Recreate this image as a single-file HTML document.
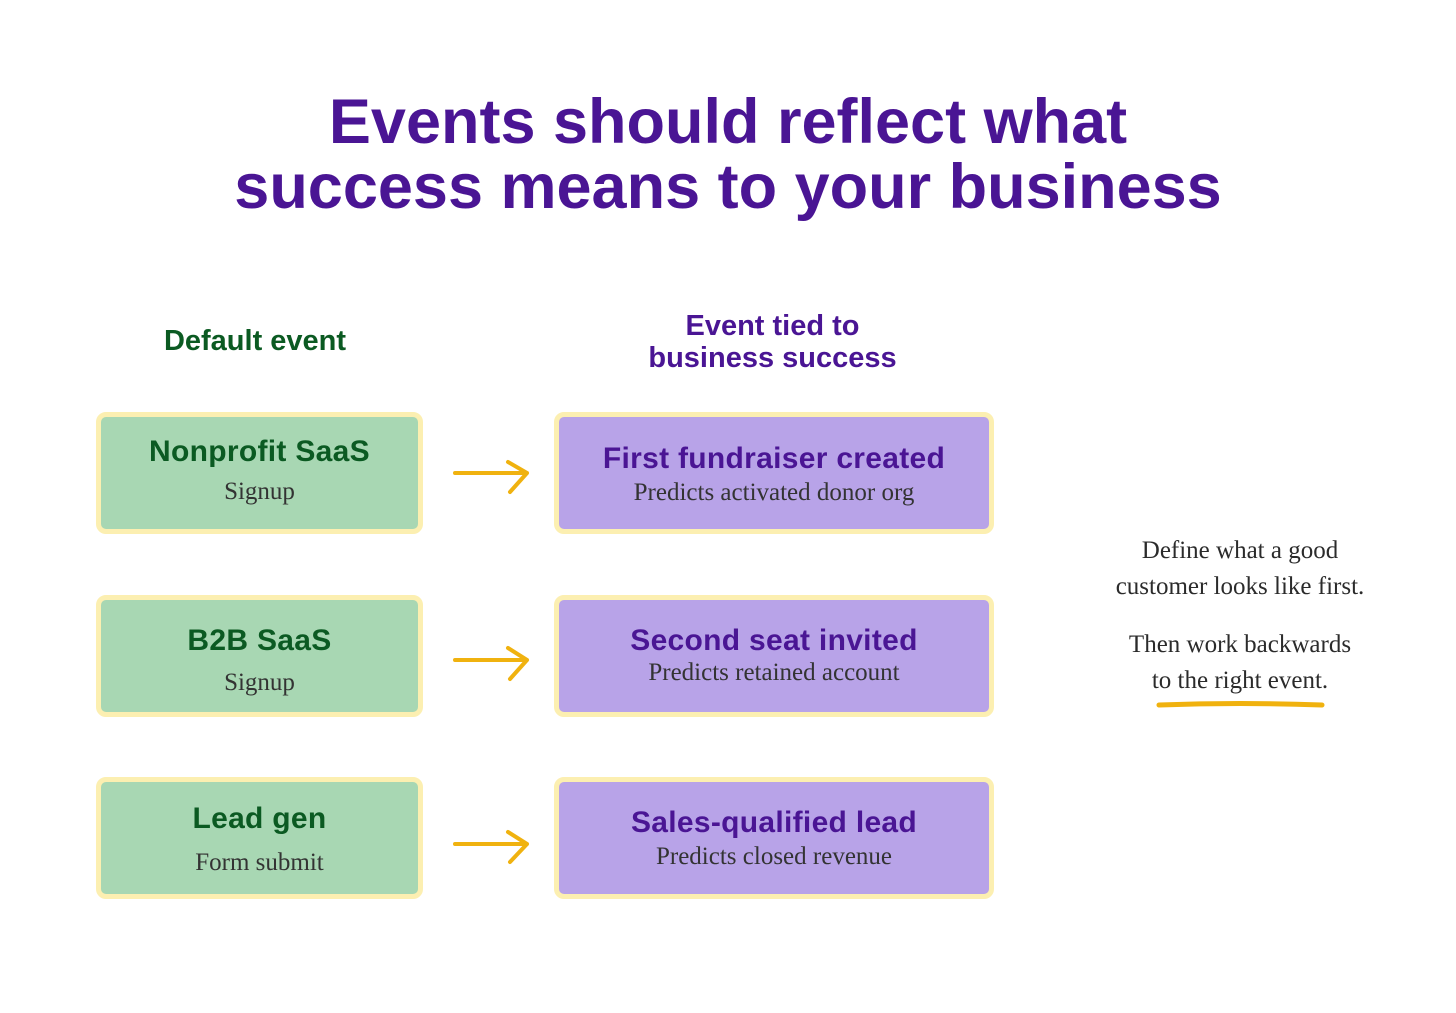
<!DOCTYPE html>
<html><head><meta charset="utf-8"><style>
body{margin:0;width:1456px;height:1013px;background:#fff;position:relative;overflow:hidden;font-family:"Liberation Sans",sans-serif}
.t{position:absolute;left:0;width:1456px;text-align:center;color:#4a1594;font-weight:bold;font-size:63px;line-height:64px;letter-spacing:0px}
.box{position:absolute;border:5px solid #fcefb1;border-radius:10px;box-sizing:border-box;text-align:center}
.g{background:#a8d7b3;left:96px;width:327px;height:122px}
.p{background:#b8a3e8;left:554px;width:440px;height:122px}
.h{font-weight:bold;font-size:30px;line-height:34px;letter-spacing:0.3px}
.g .h{color:#0b5a22}.p .h{color:#4a1594}
.s{font-family:"Liberation Serif",serif;font-size:25px;color:#333;line-height:30px}
.lab{position:absolute;font-weight:bold;font-size:29px;line-height:32px;text-align:center}
.note{position:absolute;left:1070px;width:340px;text-align:center;font-family:"Liberation Serif",serif;font-size:25px;color:#2b2b2b;line-height:36px}
</style></head><body>
<div class="t" style="top:90px">Events should reflect what</div>
<div class="t" style="top:155px">success means to your business</div>
<div class="lab" style="left:100px;width:310px;top:325px;color:#0b5a22">Default event</div>
<div class="lab" style="left:600px;width:345px;top:310px;color:#4a1594">Event tied to<br>business success</div>

<div class="box g" style="top:412px"><div class="h" style="margin-top:18px">Nonprofit SaaS</div><div class="s" style="margin-top:8px">Signup</div></div>
<div class="box g" style="top:595px"><div class="h" style="margin-top:24px">B2B SaaS</div><div class="s" style="margin-top:10px">Signup</div></div>
<div class="box g" style="top:777px"><div class="h" style="margin-top:20px">Lead gen</div><div class="s" style="margin-top:12px">Form submit</div></div>

<div class="box p" style="top:412px"><div class="h" style="margin-top:25px">First fundraiser created</div><div class="s" style="margin-top:2px">Predicts activated donor org</div></div>
<div class="box p" style="top:595px"><div class="h" style="margin-top:24px">Second seat invited</div><div class="s" style="margin-top:0px">Predicts retained account</div></div>
<div class="box p" style="top:777px"><div class="h" style="margin-top:24px">Sales-qualified lead</div><div class="s" style="margin-top:2px">Predicts closed revenue</div></div>

<svg style="position:absolute;left:0;top:0" width="1456" height="1013">
<g stroke="#f0b20f" stroke-width="4" fill="none" stroke-linecap="round" stroke-linejoin="round">
<path d="M455 473 L527 473 M508 462 L527 473 L510 492"/>
<path d="M455 660 L527 660 M508 648 L527 660 L510 679"/>
<path d="M455 844 L527 844 M508 832 L527 844 L510 862"/>
<path d="M1159 705 Q1240 702 1322 705" stroke-width="5"/>
</g></svg>
<div class="note" style="top:533px">Define what a good<br>customer looks like first.</div>
<div class="note" style="top:627px">Then work backwards<br>to the right event.</div>
</body></html>
